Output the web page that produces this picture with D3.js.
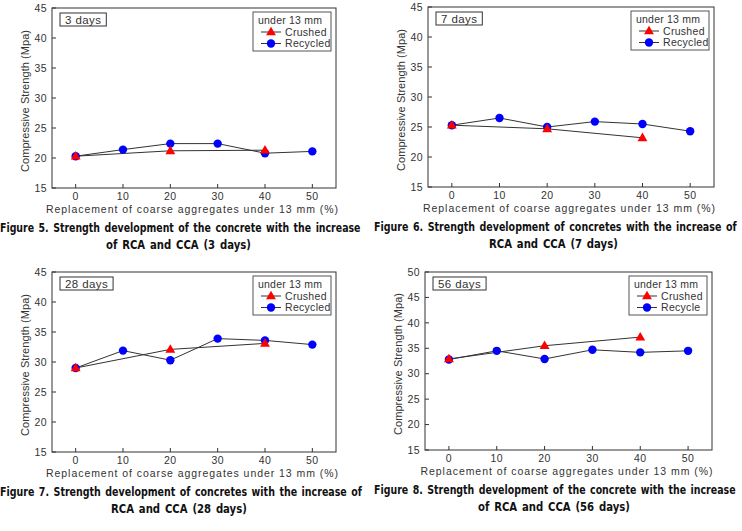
<!DOCTYPE html>
<html lang="en">
<head>
<meta charset="UTF-8" />
<title>Compressive strength vs replacement of coarse aggregates</title>
<script src="https://d3js.org/d3.v7.min.js"></script>
<style>
  body { margin: 0; background: #fff; }
  svg { display: block; }
  .tick-label, .axis-title, .legend-text, .age-text {
    font-family: 'Liberation Sans', Arial, sans-serif;
    fill: #333;
  }
  .caption {
    font-family: 'Liberation Sans Narrow', 'DejaVu Sans Condensed', 'Liberation Sans', sans-serif;
    font-weight: bold;
    fill: #111;
  }
</style>
</head>
<body>
<div id="chart"></div>
<script>
// replacement levels (%)
const xCrushed = [0, 20, 40];
const xRecycled = [0, 10, 20, 30, 40, 50];
const xTicks = [0, 10, 20, 30, 40, 50];

// compressive strength (MPa)
const crushed3 = [20.3, 21.2, 21.3];
const recycled3 = [20.3, 21.4, 22.4, 22.4, 20.8, 21.1];
const crushed7 = [25.3, 24.7, 23.2];
const recycled7 = [25.3, 26.5, 25.0, 25.9, 25.5, 24.3];
const crushed28 = [29.0, 32.1, 33.1];
const recycled28 = [29.0, 31.9, 30.3, 33.9, 33.6, 32.9];
const crushed56 = [32.9, 35.5, 37.2];
const recycled56 = [32.8, 34.5, 32.9, 34.7, 34.2, 34.5];

const yTicks45 = [15, 20, 25, 30, 35, 40, 45];
const yTicks50 = [15, 20, 25, 30, 35, 40, 45, 50];

const W = 742, H = 531;
const svg = d3.select("#chart").append("svg")
  .attr("width", W).attr("height", H);

const panels = [
  { frame: [52, 8, 336, 188], yMax: 45, yTicks: yTicks45, age: "3 days",
    crushed: crushed3, recycled: recycled3, recLabel: "Recycled",
    cap: ["Figure 5. Strength development of the concrete with the increase", "of RCA and CCA (3 days)"],
    capX: [[0, 361], [106, 145]] },
  { frame: [428, 7, 714, 187], yMax: 45, yTicks: yTicks45, age: "7 days",
    crushed: crushed7, recycled: recycled7, recLabel: "Recycled",
    cap: ["Figure 6. Strength development of concretes with the increase of", "RCA and CCA (7 days)"],
    capX: [[374, 363], [489, 129]] },
  { frame: [52, 272, 336, 452], yMax: 45, yTicks: yTicks45, age: "28 days",
    crushed: crushed28, recycled: recycled28, recLabel: "Recycled",
    cap: ["Figure 7. Strength development of concretes with the increase of", "RCA and CCA (28 days)"],
    capX: [[0, 362], [111, 136]] },
  { frame: [425, 272, 712, 450], yMax: 50, yTicks: yTicks50, age: "56 days",
    crushed: crushed56, recycled: recycled56, recLabel: "Recycle",
    cap: ["Figure 8. Strength development of the concrete with the increase", "of RCA and CCA (56 days)"],
    capX: [[374, 362], [478, 152]] }
];

const tri = d3.symbol().type(d3.symbolTriangle).size(42);

function drawPanel(p) {
  const [l, t, r, b] = p.frame;
  const g = svg.append("g");
  const x = d3.scaleLinear().domain([-5, 55]).range([l, r]);
  const y = d3.scaleLinear().domain([15, p.yMax]).range([b, t]);

  // frame
  g.append("rect")
    .attr("x", l).attr("y", t).attr("width", r - l).attr("height", b - t)
    .attr("fill", "none").attr("stroke", "#333").attr("stroke-width", 1);

  // inward ticks
  g.selectAll(".xt").data(xTicks).enter().append("line")
    .attr("x1", d => x(d)).attr("x2", d => x(d))
    .attr("y1", b).attr("y2", b - 4)
    .attr("stroke", "#333");
  g.selectAll(".yt").data(p.yTicks).enter().append("line")
    .attr("x1", l).attr("x2", l + 4)
    .attr("y1", d => y(d)).attr("y2", d => y(d))
    .attr("stroke", "#333");

  g.selectAll(".xl").data(xTicks).enter().append("text")
    .attr("class", "tick-label")
    .attr("x", d => x(d)).attr("y", b + 12)
    .attr("text-anchor", "middle").attr("font-size", 10.5)
    .attr("letter-spacing", 0.4)
    .text(d => d);
  g.selectAll(".yl").data(p.yTicks).enter().append("text")
    .attr("class", "tick-label")
    .attr("x", l - 5).attr("y", d => y(d)).attr("dy", "0.36em")
    .attr("text-anchor", "end").attr("font-size", 10.5)
    .attr("letter-spacing", 0.4)
    .text(d => d);

  // axis titles
  g.append("text").attr("class", "axis-title")
    .attr("x", (l + r) / 2 - 2).attr("y", b + 25)
    .attr("text-anchor", "middle").attr("font-size", 10.5)
    .attr("textLength", 292).attr("lengthAdjust", "spacing")
    .text("Replacement of coarse aggregates under 13 mm (%)");
  g.append("text").attr("class", "axis-title")
    .attr("transform", `translate(${l - 23},${(t + b) / 2 + 3}) rotate(-90)`)
    .attr("text-anchor", "middle").attr("font-size", 11)
    .attr("textLength", 142).attr("lengthAdjust", "spacing")
    .text("Compressive Strength (Mpa)");

  // series
  const line = d3.line().x(d => x(d[0])).y(d => y(d[1]));
  const rec = xRecycled.map((v, i) => [v, p.recycled[i]]);
  const cru = xCrushed.map((v, i) => [v, p.crushed[i]]);
  g.append("path").attr("d", line(rec))
    .attr("fill", "none").attr("stroke", "#333").attr("stroke-width", 1);
  g.append("path").attr("d", line(cru))
    .attr("fill", "none").attr("stroke", "#333").attr("stroke-width", 1);
  g.selectAll(".rc").data(rec).enter().append("circle")
    .attr("cx", d => x(d[0])).attr("cy", d => y(d[1])).attr("r", 4.2)
    .attr("fill", "#0000ff");
  g.selectAll(".cr").data(cru).enter().append("path")
    .attr("d", tri)
    .attr("transform", d => `translate(${x(d[0])},${y(d[1]) + 0.5})`)
    .attr("fill", "#ff0000");

  // age label box
  const ageG = g.append("g");
  const ageT = ageG.append("text").attr("class", "age-text")
    .attr("x", l + 13).attr("y", t + 15.5).attr("font-size", 11.5)
    .attr("letter-spacing", 0.4)
    .text(p.age);
  const aw = ageT.node().getComputedTextLength();
  ageG.insert("rect", "text")
    .attr("x", l + 8).attr("y", t + 5).attr("width", aw + 10).attr("height", 13)
    .attr("fill", "#fff").attr("stroke", "#333");

  // legend
  const lx = r - 83, ly = t + 4;
  const lg = g.append("g");
  lg.append("rect").attr("x", lx).attr("y", ly).attr("width", 78).attr("height", 39)
    .attr("fill", "#fff").attr("stroke", "#555");
  lg.append("text").attr("class", "legend-text")
    .attr("x", lx + 5).attr("y", ly + 12).attr("font-size", 10.5)
    .attr("textLength", 64).attr("lengthAdjust", "spacing")
    .text("under 13 mm");
  const rows = [
    { label: "Crushed", kind: "tri", dy: 20 },
    { label: p.recLabel, kind: "circ", dy: 31.5 }
  ];
  rows.forEach(row => {
    const cy = ly + row.dy;
    lg.append("line").attr("x1", lx + 8).attr("x2", lx + 28)
      .attr("y1", cy).attr("y2", cy).attr("stroke", "#333");
    if (row.kind === "tri") {
      lg.append("path").attr("d", tri)
        .attr("transform", `translate(${lx + 18},${cy + 0.5})`).attr("fill", "#ff0000");
    } else {
      lg.append("circle").attr("cx", lx + 18).attr("cy", cy).attr("r", 4.2)
        .attr("fill", "#0000ff");
    }
    lg.append("text").attr("class", "legend-text")
      .attr("x", lx + 32).attr("y", cy + 3.8).attr("font-size", 10.5)
      .attr("letter-spacing", 0.3)
      .text(row.label);
  });

  // caption: 13px bold, squeezed horizontally to the measured width
  p.cap.forEach((txt, i) => {
    const [cx, cw] = p.capX[i];
    const cg = g.append("g");
    const ct = cg.append("text").attr("class", "caption")
      .attr("x", 0).attr("y", 0)
      .attr("font-size", 13)
      .attr("word-spacing", 1.5)
      .text(txt);
    const nat = ct.node().getComputedTextLength();
    cg.attr("transform", `translate(${cx},${b + 44 + i * 16.5}) scale(${cw / nat},1)`);
  });
}

panels.forEach(drawPanel);
</script>
</body>
</html>
